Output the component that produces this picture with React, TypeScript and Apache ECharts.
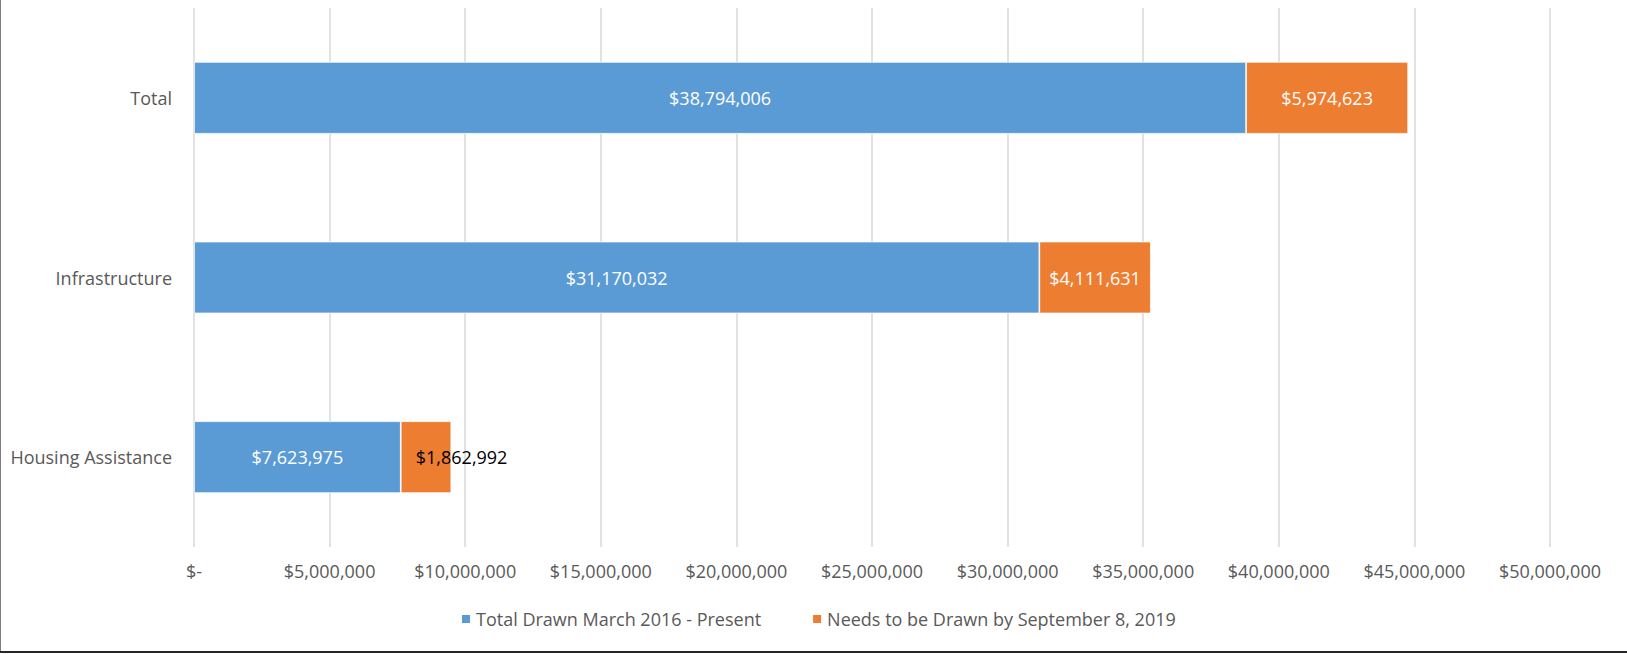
import React, { useEffect, useRef } from "react";
import * as echarts from "echarts";

const categories = ["Housing Assistance", "Infrastructure", "Total"];
const drawnValues = [7623975, 31170032, 38794006];
const neededValues = [1862992, 4111631, 5974623];
const seriesNames = ["Total Drawn March 2016 - Present", "Needs to be Drawn by September 8, 2019"];
const axisMax = 50000000;
const axisInterval = 5000000;

const FONT = "'Open Sans', 'Noto Sans', sans-serif";
const GRAY = "#595959";
const FS = 18;

const money = (v: number) => "$" + v.toLocaleString("en-US");

export default function App() {
  const ref = useRef<HTMLDivElement>(null);
  useEffect(() => {
    if (!ref.current) return;
    const chart = echarts.init(ref.current, null, { renderer: "svg" });
    chart.setOption({
      animation: false,
      textStyle: { fontFamily: FONT },
      grid: { left: 194, right: 77, top: 8, bottom: 107 },
      legend: {
        left: 455,
        top: 605,
        itemWidth: 10,
        itemHeight: 10,
        itemGap: 50,
        icon: "rect",
        textStyle: { color: GRAY, fontSize: FS, fontFamily: FONT },
        data: seriesNames,
      },
      xAxis: {
        type: "value",
        min: 0,
        max: axisMax,
        interval: axisInterval,
        axisLine: { show: false },
        axisTick: { show: false },
        splitLine: { lineStyle: { color: "#D9D9D9", width: 1.5 } },
        axisLabel: {
          color: GRAY,
          fontSize: FS,
          fontFamily: FONT,
          margin: 15,
          formatter: (v: number) => (v === 0 ? "$-" : money(v)),
        },
      },
      yAxis: {
        type: "category",
        data: categories,
        axisLine: { show: false },
        axisTick: { show: false },
        axisLabel: { color: GRAY, fontSize: FS, fontFamily: FONT, margin: 22 },
      },
      series: [
        {
          name: seriesNames[0],
          type: "bar",
          stack: "total",
          barCategoryGap: "60%",
          data: drawnValues,
          itemStyle: { color: "#5B9BD5", borderColor: "#ffffff", borderWidth: 0.75 },
          label: {
            show: true,
            position: "inside",
            color: "#ffffff",
            fontSize: FS,
            fontFamily: FONT,
            formatter: (p: any) => money(p.value),
          },
        },
        {
          name: seriesNames[1],
          type: "bar",
          stack: "total",
          barCategoryGap: "60%",
          data: neededValues.map((v, i) =>
            i === 0
              ? { value: v, label: { position: "insideLeft", distance: 15, color: "#000000" } }
              : v
          ),
          itemStyle: { color: "#ED7D31", borderColor: "#ffffff", borderWidth: 0.75 },
          label: {
            show: true,
            position: "inside",
            color: "#ffffff",
            fontSize: FS,
            fontFamily: FONT,
            formatter: (p: any) => money(p.value),
          },
        },
      ],
    });
    return () => chart.dispose();
  }, []);
  return (
    <div style={{ position: "fixed", left: 0, top: 0, width: 1627, height: 654, background: "#fff" }}>
      <div ref={ref} style={{ position: "absolute", left: 0, top: 0, width: 1627, height: 654 }} />
      <div style={{ position: "absolute", left: 0, top: 0, width: 1, height: 653, background: "#7F7F7F" }} />
      <div style={{ position: "absolute", left: 0, top: 651, width: 1627, height: 2, background: "#262626" }} />
    </div>
  );
}
